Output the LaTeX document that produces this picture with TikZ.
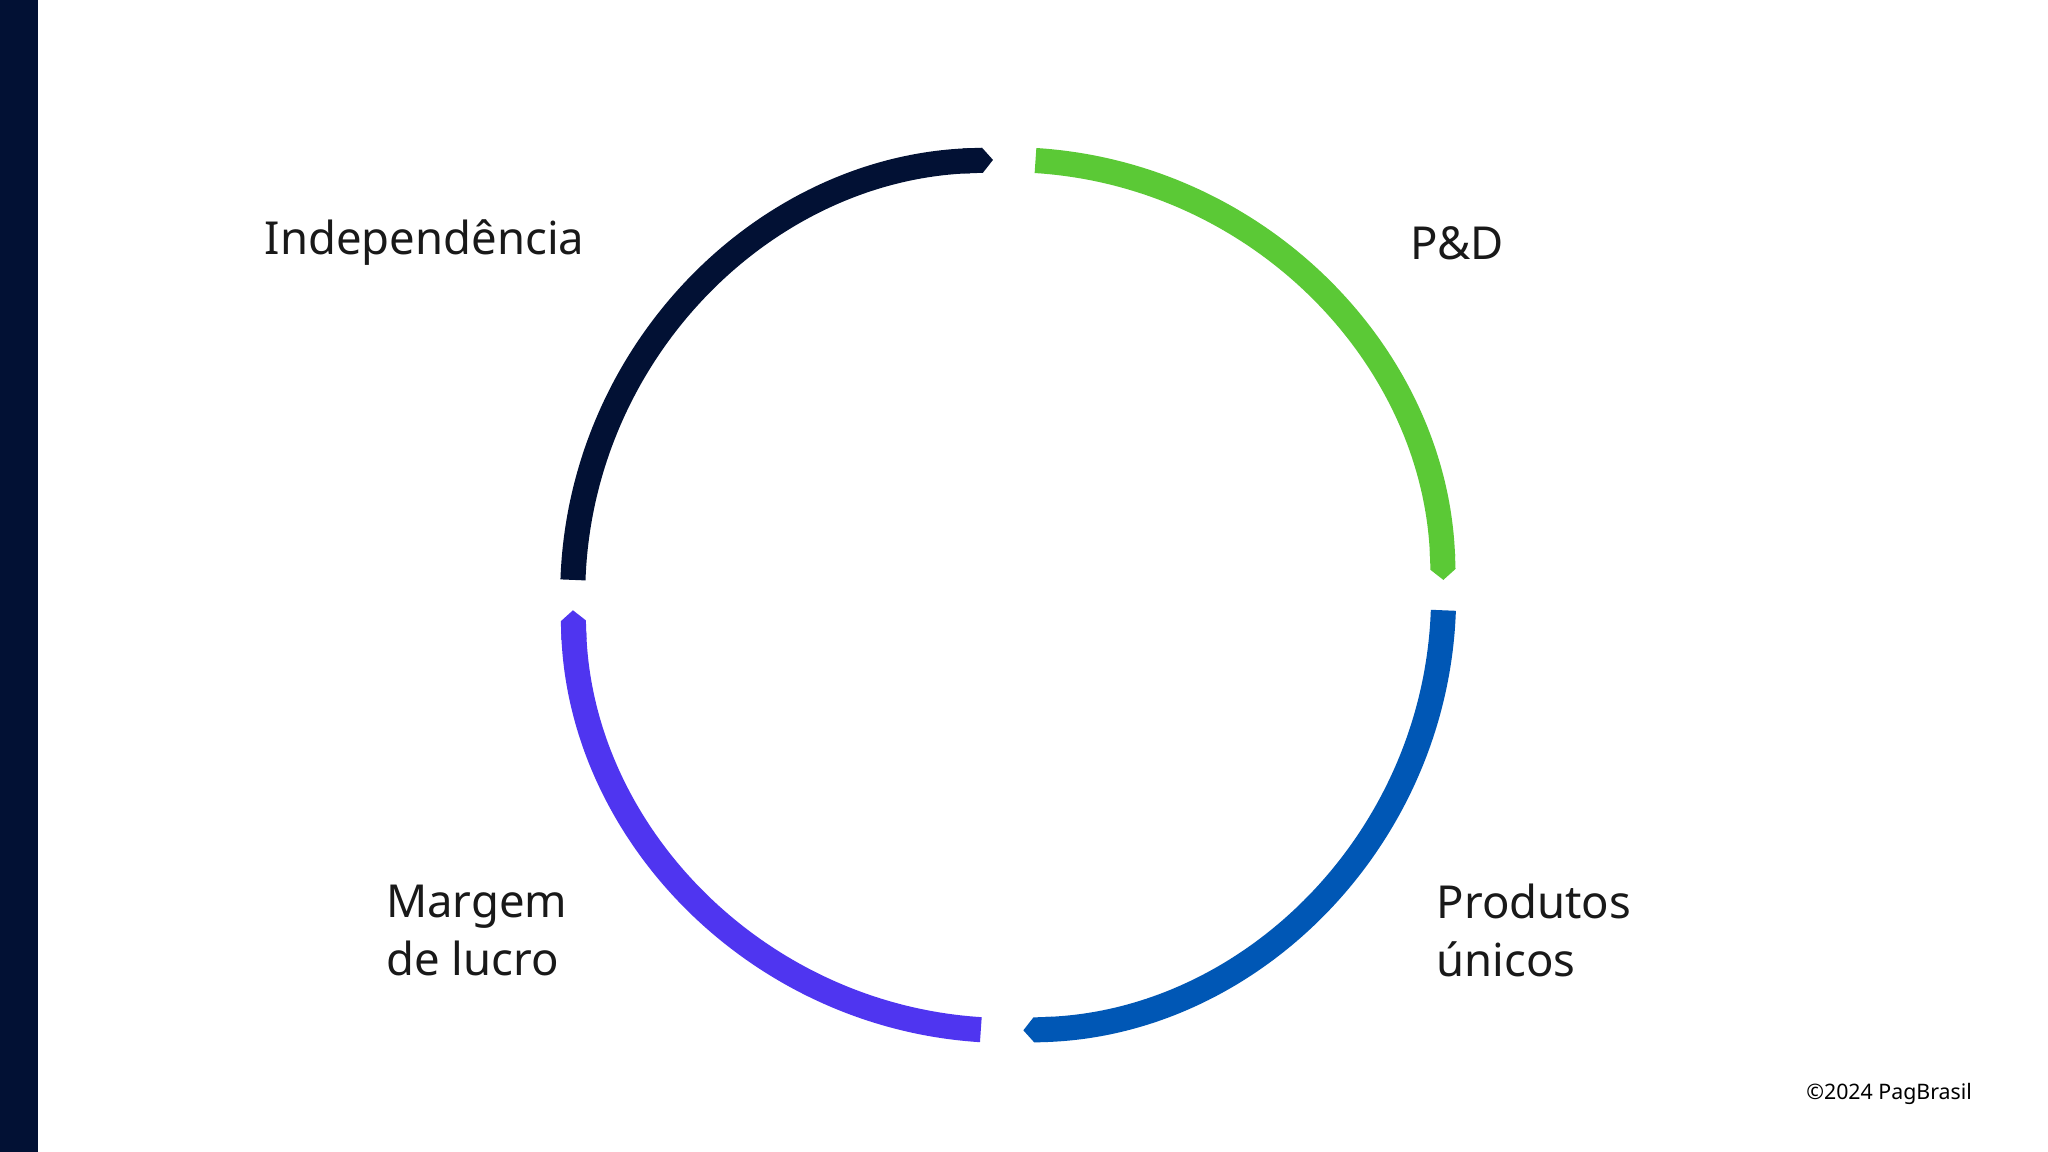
\documentclass[tikz,border=0pt]{standalone}
\usepackage{fontspec}
\setmainfont{Noto Sans}
\usetikzlibrary{arrows.meta}
\definecolor{navy}{HTML}{021134}
\definecolor{grn}{HTML}{5BC936}
\definecolor{blu}{HTML}{0057B5}
\definecolor{pur}{HTML}{4F35F0}
\tikzset{arcseg/.style={line width=0.19cm, -{Triangle Cap[cap angle=100]}},
 lbl/.style={anchor=west, font=\bfseries\fontsize{9.8}{12.6}\selectfont, text=black!90, align=left, inner sep=0pt}}
\begin{document}
\begin{tikzpicture}[x=1cm,y=1cm]
\path[use as bounding box, fill=white] (0,0) rectangle (15.52,8.73);
\fill[navy] (0,0) rectangle (0.29,8.73);
\coordinate (c) at (7.64,4.22);
\draw[arcseg, navy] ([shift={(178:3.30)}]c) arc[start angle=178, end angle=92, radius=3.30];
\draw[arcseg, grn] ([shift={(86.4:3.30)}]c) arc[start angle=86.4, end angle=2, radius=3.30];
\draw[arcseg, blu] ([shift={(-2:3.30)}]c) arc[start angle=-2, end angle=-88, radius=3.30];
\draw[arcseg, pur] ([shift={(-93.6:3.30)}]c) arc[start angle=-93.6, end angle=-178, radius=3.30];
\node[lbl] (ind) at (2.00,6.89) {Independência};
\node[lbl] (pd) at (10.68,6.89) {P\&D};
\node[lbl] (pu) at (10.88,1.68) {Produtos\\únicos};
\node[lbl] (ml) at (2.92,1.68) {Margem\\de lucro};
\node[anchor=east, font=\fontsize{4.6}{5.5}\selectfont, inner sep=0pt] (cp) at (14.95,0.44) {©2024 PagBrasil};
\end{tikzpicture}
\end{document}
